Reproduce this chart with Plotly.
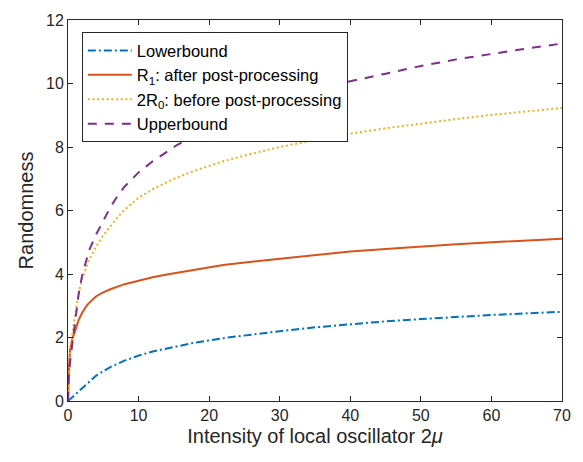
import plotly.graph_objects as go

# Lowerbound
x_low = [0, 0.5, 1, 2, 3, 4, 5, 6, 8, 10, 12, 15, 18, 22, 26, 30, 35, 40, 45, 50, 55, 60, 65, 70]
y_low = [0, 0.10, 0.21, 0.42, 0.62, 0.80, 0.94, 1.07, 1.27, 1.43, 1.56, 1.71, 1.84, 1.98, 2.10, 2.20, 2.32, 2.42, 2.51, 2.58, 2.65, 2.71, 2.76, 2.81]

# R1: after post-processing
x_r1 = [0, 0.05, 0.15, 0.3, 0.6, 1, 1.5, 2, 2.7, 3.5, 4, 5, 6, 8, 10, 12, 14, 18, 22, 27, 30, 35, 40, 45, 50, 55, 60, 65, 70]
y_r1 = [0, 0.50, 1.10, 1.60, 1.95, 2.20, 2.55, 2.78, 3.02, 3.20, 3.30, 3.42, 3.52, 3.68, 3.80, 3.90, 3.985, 4.14, 4.28, 4.41, 4.48, 4.60, 4.71, 4.79, 4.87, 4.94, 5.00, 5.06, 5.11]

# 2R0: before post-processing
x_r0 = [0, 0.1, 0.3, 0.6, 1, 1.5, 2, 3, 4, 5, 6, 7, 8, 10, 12, 15, 18, 22, 26, 30, 35, 40, 45, 50, 55, 60, 65, 70]
y_r0 = [0, 0.75, 1.50, 2.10, 2.75, 3.40, 3.85, 4.45, 4.87, 5.22, 5.50, 5.78, 6.02, 6.40, 6.67, 7.00, 7.26, 7.55, 7.79, 8.00, 8.22, 8.42, 8.59, 8.74, 8.88, 9.01, 9.12, 9.23]

# Upperbound
x_up = [0, 0.1, 0.3, 0.6, 1, 1.5, 2, 3, 4, 5, 6, 7, 8, 10, 12, 15.5, 20, 25, 30, 35, 40, 45, 50, 55, 60, 65, 70]
y_up = [0, 0.70, 1.25, 1.75, 2.50, 3.35, 3.95, 4.75, 5.25, 5.70, 6.10, 6.45, 6.75, 7.20, 7.55, 8.07, 8.60, 9.08, 9.47, 9.80, 10.07, 10.31, 10.55, 10.76, 10.94, 11.10, 11.26]

x_ticks = [0, 10, 20, 30, 40, 50, 60, 70]
y_ticks = [0, 2, 4, 6, 8, 10, 12]

FONT = "Arial, 'Liberation Sans', Helvetica, sans-serif"
AX = "#262626"

fig = go.Figure()
fig.add_trace(go.Scatter(x=x_low, y=y_low, mode="lines", name="Lowerbound", legendgroup="a",
                         line=dict(color="#0072BD", width=2, dash="8px,3px,2px,3px")))
fig.add_trace(go.Scatter(x=x_r1, y=y_r1, mode="lines", name="R<sub>1</sub>: after post-processing", legendgroup="b",
                         line=dict(color="#D95319", width=2)))
fig.add_trace(go.Scatter(x=x_r0, y=y_r0, mode="lines", name="2R<sub>0</sub>: before post-processing", legendgroup="c",
                         line=dict(color="#EDB120", width=2, dash="2px,2.7px")))
fig.add_trace(go.Scatter(x=x_up, y=y_up, mode="lines", name="Upperbound", legendgroup="d",
                         line=dict(color="#7E2F8E", width=2, dash="9px,8px")))

axis_common = dict(showline=True, linecolor=AX, linewidth=1, mirror="ticks", ticks="inside",
                   ticklen=5, tickcolor=AX, showgrid=False, zeroline=False,
                   tickfont=dict(family=FONT, size=16, color=AX))

fig.update_xaxes(range=[0, 70], tickvals=x_ticks, ticktext=[str(v) for v in x_ticks],
                 title=dict(text="Intensity of local oscillator 2<i>μ</i>",
                            font=dict(family=FONT, size=20, color=AX), standoff=5),
                 **axis_common)
fig.update_yaxes(range=[0, 12], tickvals=y_ticks, ticktext=[str(v) for v in y_ticks],
                 title=dict(text="Randomness", font=dict(family=FONT, size=20, color=AX), standoff=7),
                 **axis_common)

fig.update_layout(
    width=583, height=462,
    margin=dict(l=68, r=17, t=15, b=61),
    paper_bgcolor="white", plot_bgcolor="white",
    font=dict(family=FONT, color=AX),
    legend=dict(x=0.028, y=0.968, xanchor="left", yanchor="top",
                bgcolor="white", bordercolor=AX, borderwidth=1,
                font=dict(family=FONT, size=16.5, color="black"),
                traceorder="grouped", tracegroupgap=0, itemwidth=44),
    showlegend=True,
)

fig.write_html("out.html")
